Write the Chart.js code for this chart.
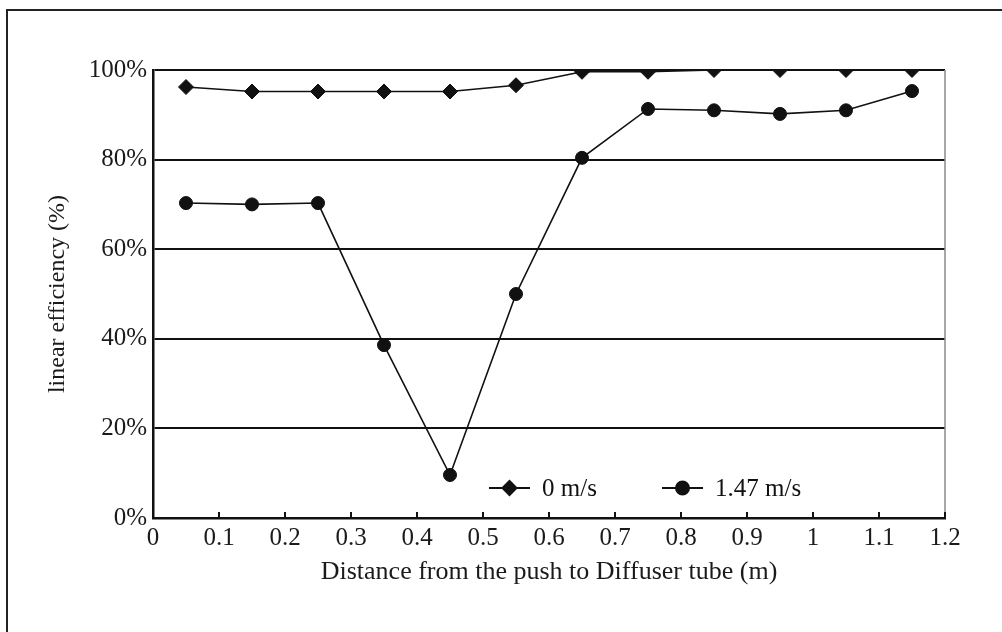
<!DOCTYPE html>
<html>
<head>
<meta charset="utf-8">
<script src="https://cdn.jsdelivr.net/npm/chart.js@4"></script>
<style>
  html, body { margin: 0; padding: 0; background: #fff; }
  #wrap { position: relative; width: 1002px; height: 632px; overflow: hidden; }
  #frame { position: absolute; left: 6px; top: 9px; width: 1100px; height: 700px;
           border-left: 2px solid #222; border-top: 2px solid #222; }
  canvas { position: absolute; left: 0; top: 0; }
</style>
</head>
<body>
<div id="wrap">
  <div id="frame"></div>
  <canvas id="chart" width="1002" height="632"></canvas>
</div>
<script>
// distance from the push (m)
const distances = [0.05, 0.15, 0.25, 0.35, 0.45, 0.55, 0.65, 0.75, 0.85, 0.95, 1.05, 1.15];
// linear efficiency (%)
const eff0   = [96.2, 95.2, 95.2, 95.2, 95.2, 96.6, 99.6, 99.6, 100, 100, 100, 100];
const eff147 = [70.3, 70.0, 70.3, 38.6, 9.6, 50.0, 80.4, 91.3, 91.0, 90.2, 91.0, 95.3];
const seriesNames = ['0 m/s', '1.47 m/s'];
const xTicks = [0, 0.1, 0.2, 0.3, 0.4, 0.5, 0.6, 0.7, 0.8, 0.9, 1, 1.1, 1.2];
const yTicks = [0, 20, 40, 60, 80, 100];

const SERIF = '"Liberation Serif", "DejaVu Serif", serif';

const toPts = (ys) => distances.map((x, i) => ({ x, y: ys[i] }));

// frame bits + inner tick marks + legend line/marker
const extras = {
  id: 'extras',
  afterDraw(chart) {
    const { ctx, chartArea: a, scales: { x } } = chart;
    ctx.save();
    // right edge of plot (grey)
    ctx.strokeStyle = '#8a8a8a';
    ctx.lineWidth = 1.5;
    ctx.beginPath(); ctx.moveTo(a.right, a.top); ctx.lineTo(a.right, a.bottom); ctx.stroke();
    // small ticks pointing up from the x axis
    ctx.strokeStyle = '#111';
    ctx.lineWidth = 2;
    xTicks.forEach(v => {
      const px = x.getPixelForValue(v);
      ctx.beginPath(); ctx.moveTo(px, a.bottom); ctx.lineTo(px, a.bottom - 6); ctx.stroke();
    });
    // legend
    const items = [
      { x0: 489, style: 'rectRot', label: seriesNames[0] },
      { x0: 662, style: 'circle',  label: seriesNames[1] }
    ];
    const ly = 488;
    ctx.font = '25px ' + SERIF;
    ctx.textBaseline = 'middle';
    ctx.fillStyle = '#111';
    items.forEach(it => {
      ctx.lineWidth = 2;
      ctx.beginPath(); ctx.moveTo(it.x0, ly); ctx.lineTo(it.x0 + 41, ly); ctx.stroke();
      Chart.helpers.drawPoint(ctx, { pointStyle: it.style, radius: it.style === 'circle' ? 6.5 : 7, rotation: 0, borderWidth: 1 }, it.x0 + 20.5, ly);
      ctx.fillStyle = '#111';
      ctx.fillText(it.label, it.x0 + 53, ly + 1);
    });
    ctx.restore();
  }
};

new Chart(document.getElementById('chart'), {
  type: 'line',
  data: {
    datasets: [
      {
        label: seriesNames[0], data: toPts(eff0),
        borderColor: '#111', backgroundColor: '#111', borderWidth: 1.6,
        pointStyle: 'rectRot', pointRadius: 7.5, pointBorderWidth: 1,
        tension: 0
      },
      {
        label: seriesNames[1], data: toPts(eff147),
        borderColor: '#111', backgroundColor: '#111', borderWidth: 1.6,
        pointStyle: 'circle', pointRadius: 6.5, pointBorderWidth: 1,
        tension: 0
      }
    ]
  },
  options: {
    responsive: false,
    animation: false,
    events: [],
    layout: { padding: { left: 0, top: 70, right: 57, bottom: 44 } },
    plugins: { legend: { display: false }, tooltip: { enabled: false } },
    scales: {
      x: {
        type: 'linear', min: 0, max: 1.2,
        afterBuildTicks: (s) => { s.ticks = xTicks.map(v => ({ value: v })); },
        afterFit: (s) => { s.height = 70; },
        ticks: {
          color: '#1a1a1a', padding: 5, maxRotation: 0, autoSkip: false,
          font: { family: SERIF, size: 25 },
          callback: (v) => String(Math.round(v * 10) / 10)
        },
        grid: { display: false, drawTicks: false },
        border: { display: true, color: '#111', width: 2.5 },
        title: {
          display: true, text: 'Distance from the push to Diffuser tube (m)',
          color: '#1a1a1a', font: { family: SERIF, size: 26 }, padding: { top: 0, bottom: 0 }
        }
      },
      y: {
        min: 0, max: 100,
        afterBuildTicks: (s) => { s.ticks = yTicks.map(v => ({ value: v })); },
        afterFit: (s) => { s.width = 153; },
        ticks: {
          color: '#1a1a1a', padding: 6,
          font: { family: SERIF, size: 25 },
          callback: (v) => v + '%'
        },
        grid: { color: '#111', lineWidth: 2, drawTicks: false },
        border: { display: true, color: '#111', width: 2.5 },
        title: {
          display: true, text: 'linear efficiency (%)',
          color: '#1a1a1a', font: { family: SERIF, size: 24 }, padding: { top: 43, bottom: 0 }
        }
      }
    }
  },
  plugins: [extras]
});
</script>
</body>
</html>
